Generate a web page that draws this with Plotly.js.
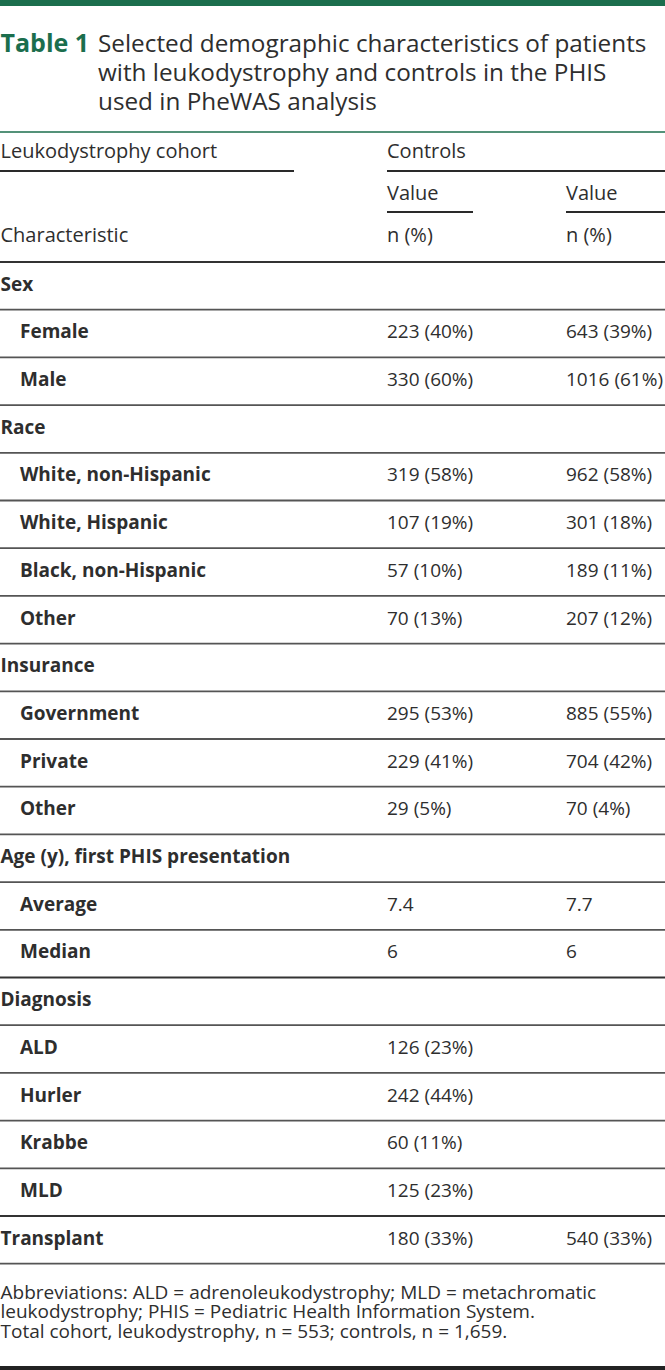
<!DOCTYPE html>
<html>
<head>
<meta charset="utf-8">
<script src="https://cdn.plot.ly/plotly-3.0.1.min.js"></script>
<style>
html,body{margin:0;padding:0;background:#fff;}
#chart{width:665px;height:1370px;}
</style>
</head>
<body>
<div id="chart"></div>
<script>
// ---- Data ----
const tableLabel = "Table 1";
const titleLines = [
  "Selected demographic characteristics of patients",
  "with leukodystrophy and controls in the PHIS",
  "used in PheWAS analysis"
];
const groupHeaders = ["Leukodystrophy cohort", "Controls"];
const valueHeaders = ["Value", "Value"];
const unitHeaders = ["n (%)", "n (%)"];
const stubHeader = "Characteristic";

const characteristics = [
  "Sex", "Female", "Male",
  "Race", "White, non-Hispanic", "White, Hispanic", "Black, non-Hispanic", "Other",
  "Insurance", "Government", "Private", "Other",
  "Age (y), first PHIS presentation", "Average", "Median",
  "Diagnosis", "ALD", "Hurler", "Krabbe", "MLD",
  "Transplant"
];
const sectionRows = [true, false, false,
  true, false, false, false, false,
  true, false, false, false,
  true, false, false,
  true, false, false, false, false,
  true];
const leukodystrophyValues = [
  "", "223 (40%)", "330 (60%)",
  "", "319 (58%)", "107 (19%)", "57 (10%)", "70 (13%)",
  "", "295 (53%)", "229 (41%)", "29 (5%)",
  "", "7.4", "6",
  "", "126 (23%)", "242 (44%)", "60 (11%)", "125 (23%)",
  "180 (33%)"
];
const controlValues = [
  "", "643 (39%)", "1016 (61%)",
  "", "962 (58%)", "301 (18%)", "189 (11%)", "207 (12%)",
  "", "885 (55%)", "704 (42%)", "70 (4%)",
  "", "7.7", "6",
  "", "", "", "", "",
  "540 (33%)"
];
const footnotes = [
  "Abbreviations: ALD = adrenoleukodystrophy; MLD = metachromatic",
  "leukodystrophy; PHIS = Pediatric Health Information System.",
  "Total cohort, leukodystrophy, n = 553; controls, n = 1,659."
];

// ---- Layout geometry ----
const W = 665, H = 1370;
const FONT = "Open Sans, Noto Sans, sans-serif";
const textColor = "#2e2e2e";
const green = "#1b6e4d";
const colX = [0.5, 387, 566];
const indent = 20;
const bodyTop = 262;
const rowH = 47.7;
const rowY = characteristics.map((_, i) => bodyTop + rowH * (i + 0.5));
const BODY = 19;
const HEAD = 20;

const traces = [];
function textTrace(xs, ys, texts, size, color, weight) {
  traces.push({
    type: "scatter", mode: "text", x: xs, y: ys, text: texts,
    textposition: "middle right", hoverinfo: "skip", showlegend: false,
    textfont: {family: FONT, size: size, color: color, weight: weight || "normal"},
    cliponaxis: false
  });
}
// title
textTrace([0.5], [46], [tableLabel], 25, green, "bold");
textTrace(titleLines.map(() => 98), [46, 75, 104], titleLines, 24.3, textColor);
// headers
textTrace([colX[0], colX[1]], [153, 153], groupHeaders, HEAD, textColor);
textTrace([colX[1], colX[2]], [195, 195], valueHeaders, HEAD, textColor);
textTrace([colX[0], colX[1], colX[2]], [237, 237, 237], [stubHeader].concat(unitHeaders), HEAD, textColor);
// body labels
textTrace(characteristics.map((_, i) => sectionRows[i] ? colX[0] : indent), rowY, characteristics, BODY, textColor, "bold");
textTrace(leukodystrophyValues.map(() => colX[1]), rowY, leukodystrophyValues, BODY, textColor);
textTrace(controlValues.map(() => colX[2]), rowY, controlValues, BODY, textColor);
// footnotes
textTrace(footnotes.map(() => colX[0]), [1294, 1313.5, 1333], footnotes, 19, textColor);

// ---- Lines ----
const shapes = [];
function hline(x0, x1, y, w, c) {
  shapes.push({type: "line", xref: "x", yref: "y", x0: x0, x1: x1, y0: y, y1: y, line: {color: c, width: w}});
}
shapes.push({type: "rect", xref: "x", yref: "y", x0: 0, x1: W, y0: 0, y1: 6, fillcolor: green, line: {width: 0}});
hline(0, W, 132, 1.5, green);
hline(0, 294, 171, 2, "#2a2a2a");
hline(387, W, 171, 2, "#2a2a2a");
hline(387, 473, 212, 2, "#2a2a2a");
hline(566, W, 212, 2, "#2a2a2a");
hline(0, W, bodyTop, 2.2, "#333");
characteristics.forEach((_, i) => {
  const y = bodyTop + rowH * (i + 1);
  const heavy = (i + 1 === 15 || i + 1 === 20);
  hline(0, W, y, heavy ? 2.2 : 1.8, heavy ? "#333" : "#555");
});
shapes.push({type: "rect", xref: "x", yref: "y", x0: 0, x1: W, y0: 1366, y1: H, fillcolor: "#222", line: {width: 0}});

Plotly.newPlot("chart", traces, {
  width: W, height: H,
  margin: {l: 0, r: 0, t: 0, b: 0},
  paper_bgcolor: "#fff", plot_bgcolor: "#fff",
  xaxis: {range: [0, W], visible: false, fixedrange: true},
  yaxis: {range: [H, 0], visible: false, fixedrange: true},
  shapes: shapes,
  showlegend: false
}, {staticPlot: true});
</script>
</body>
</html>
